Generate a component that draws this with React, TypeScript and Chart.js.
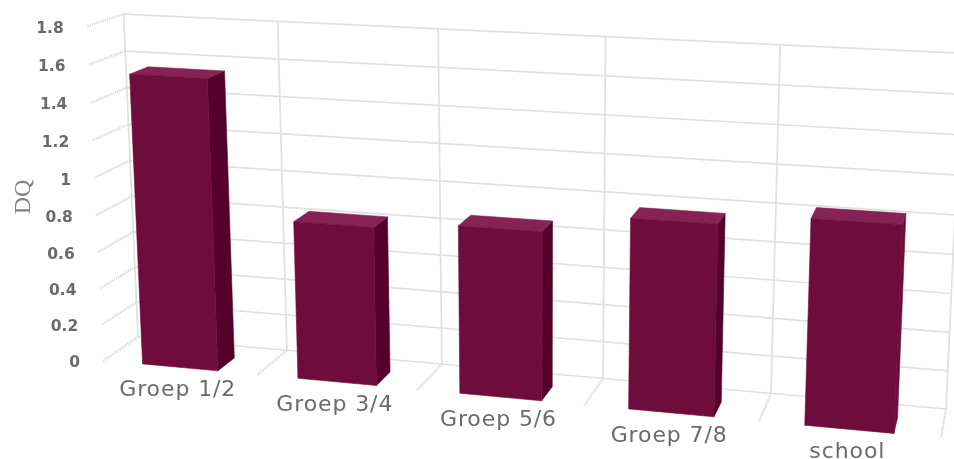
import React, { useEffect, useRef } from "react";
import { Chart, registerables } from "chart.js";

Chart.register(...registerables);

const categories = ["Groep 1/2", "Groep 3/4", "Groep 5/6", "Groep 7/8", "school"];
const dqValues = [1.56, 0.84, 0.88, 0.98, 1.04];
const yMax = 1.8;
const yStep = 0.2;
const yTitle = "DQ";

// Projective camera: (u across, v up, w toward viewer), each 0..1.
const cam = {
  a: 717.1, b: -18.81, c: 138, wx: -38.7,
  d: 32.7, e: -323.43, f: 337, wy: 10.86,
  g: -0.0961, h: -0.035, wh: -0.0362,
};
const project = (u: number, v: number, w: number): [number, number] => {
  const den = 1 + cam.g * u + cam.h * v + cam.wh * w;
  return [
    (cam.a * u + cam.b * v + cam.c + cam.wx * w) / den,
    (cam.d * u + cam.e * v + cam.f + cam.wy * w) / den,
  ];
};

const barBackW = 0.46;
const barFrontW = 0.975;

const FRONT = "#6e0c3b";
const SIDE = "#55002a";
const TOP = "#872255";
const GRID = "#e0e0e0";
const DEPTH = "#d8d8d8";
const LABEL = "#6b6b6b";

const poly = (ctx: CanvasRenderingContext2D, pts: [number, number][], fill: string) => {
  ctx.beginPath();
  pts.forEach((p, i) => (i ? ctx.lineTo(p[0], p[1]) : ctx.moveTo(p[0], p[1])));
  ctx.closePath();
  ctx.fillStyle = fill;
  ctx.strokeStyle = fill;
  ctx.lineWidth = 0.6;
  ctx.lineJoin = "round";
  ctx.fill();
  ctx.stroke();
};
const seg = (ctx: CanvasRenderingContext2D, p: [number, number], q: [number, number]) => {
  ctx.beginPath();
  ctx.moveTo(p[0], p[1]);
  ctx.lineTo(q[0], q[1]);
  ctx.stroke();
};

const perspectivePlugin = {
  id: "perspective",
  beforeDatasetsDraw(chart: any) {
    const { ctx, scales } = chart;
    const x = scales.x;
    const y = scales.y;
    const vOf = (val: number) => (y.bottom - y.getPixelForValue(val)) / y.height;
    const n = x.ticks.length;

    ctx.save();
    ctx.lineCap = "butt";

    // back wall
    ctx.strokeStyle = GRID;
    ctx.lineWidth = 1.7;
    y.ticks.forEach((t: any) => {
      const v = vOf(t.value);
      seg(ctx, project(0, v, 0), project(1, v, 0));
    });
    for (let i = 0; i <= n; i++) {
      seg(ctx, project(i / n, 0, 0), project(i / n, 1, 0));
    }

    // side-wall and floor depth ticks
    ctx.strokeStyle = DEPTH;
    ctx.lineWidth = 2.4;
    ctx.setLineDash([1.3, 1]);
    y.ticks.forEach((t: any) => {
      const v = vOf(t.value);
      seg(ctx, project(0, v, 0), project(0, v, 1));
    });
    for (let i = 1; i <= n; i++) {
      seg(ctx, project(i / n, 0, 0), project(i / n, 0, 1));
    }
    ctx.setLineDash([]);

    // y tick labels
    ctx.fillStyle = LABEL;
    ctx.font = "bold 15.5px 'DejaVu Sans'";
    ctx.textAlign = "right";
    ctx.textBaseline = "middle";
    y.ticks.forEach((t: any) => {
      const p = project(0, vOf(t.value), 1);
      ctx.fillText(t.label, p[0] - 23, p[1] + 2.5);
    });

    // category labels
    ctx.font = "22px 'DejaVu Sans'";
    ctx.letterSpacing = "0.9px";
    ctx.textAlign = "center";
    x.ticks.forEach((t: any, i: number) => {
      const p = project((i + 0.5) / n, 0, 1);
      ctx.fillText(x.getLabelForValue(t.value), p[0] - 1.5, p[1] + 22.5);
    });
    ctx.letterSpacing = "0px";

    // y title
    ctx.save();
    ctx.translate(24, 197);
    ctx.rotate(-Math.PI / 2);
    ctx.font = "24px 'Liberation Serif'";
    ctx.fillStyle = "#808080";
    ctx.fillText(yTitle, 0, 0);
    ctx.restore();
    ctx.restore();
  },
  beforeDatasetDraw(chart: any, args: any) {
    const { ctx, scales } = chart;
    const x = scales.x;
    const y = scales.y;
    const last = args.meta.data.length - 1;
    ctx.save();
    args.meta.data.forEach((el: any, i: number) => {
      const u0 = (el.x - el.width / 2 - x.left) / x.width;
      const u1 = (el.x + el.width / 2 - x.left) / x.width;
      const v0 = (y.bottom - el.base) / y.height;
      const v1 = (y.bottom - el.y) / y.height;
      const zb = barBackW;
      const zf = barFrontW;
      // the right-most bar's side face blends into its front in the reference
      poly(ctx, [project(u1, v0, zf), project(u1, v0, zb), project(u1, v1, zb), project(u1, v1, zf)], i === last ? FRONT : SIDE);
      poly(ctx, [project(u0, v1, zf), project(u0, v1, zb), project(u1, v1, zb), project(u1, v1, zf)], TOP);
      poly(ctx, [project(u0, v0, zf), project(u1, v0, zf), project(u1, v1, zf), project(u0, v1, zf)], FRONT);
    });
    ctx.restore();
    return false;
  },
};

export default function App() {
  const ref = useRef<HTMLCanvasElement>(null);
  useEffect(() => {
    const chart = new Chart(ref.current as HTMLCanvasElement, {
      type: "bar",
      data: {
        labels: categories,
        datasets: [
          {
            label: yTitle,
            data: dqValues,
            backgroundColor: FRONT,
            barPercentage: 0.7,
            categoryPercentage: 0.7,
          },
        ],
      },
      options: {
        responsive: false,
        animation: false,
        layout: { padding: 0 },
        plugins: { legend: { display: false }, tooltip: { enabled: false } },
        scales: {
          x: { grid: { display: false }, border: { display: false }, ticks: { display: false } },
          y: {
            min: 0,
            max: yMax,
            grid: { display: false },
            border: { display: false },
            ticks: {
              display: false,
              stepSize: yStep,
              callback: (v: any) => String(Math.round(Number(v) * 10) / 10),
            },
          },
        },
      },
      plugins: [perspectivePlugin],
    } as any);
    return () => chart.destroy();
  }, []);
  return (
    <div style={{ position: "fixed", left: 0, top: 0, width: 954, height: 459, overflow: "hidden", background: "#fff" }}>
      <canvas ref={ref} width={954} height={459} style={{ display: "block", filter: "blur(0.7px)" }} />
    </div>
  );
}
